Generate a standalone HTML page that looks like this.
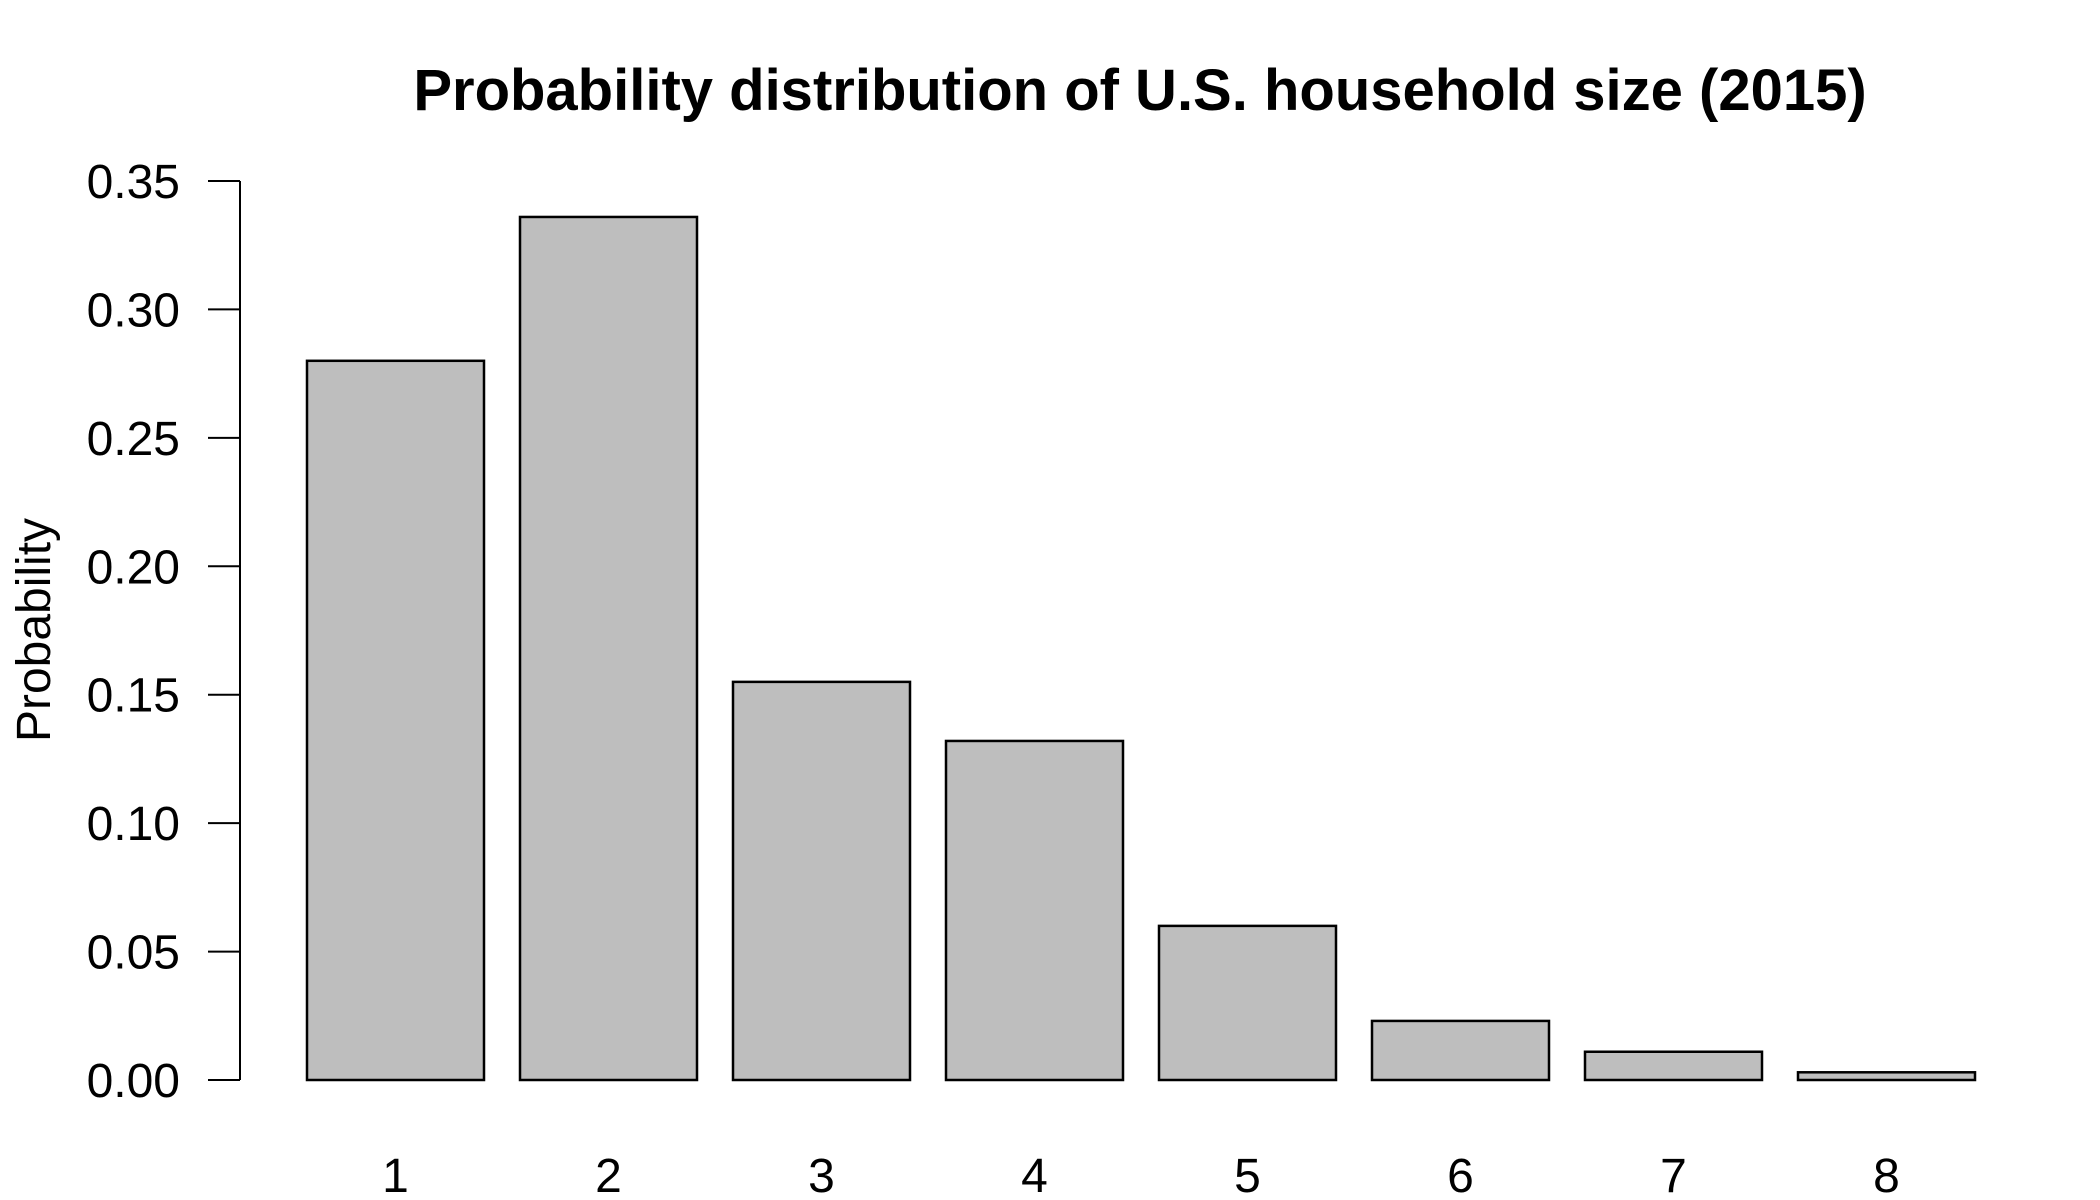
<!DOCTYPE html>
<html><head><meta charset="utf-8"><style>
html,body{margin:0;padding:0;background:#fff;}
svg{display:block;font-family:"Liberation Sans",Arial,sans-serif;}
</style></head><body>
<svg id="chart" width="2100" height="1200" viewBox="0 0 2100 1200">
<rect width="2100" height="1200" fill="#fff"/>
<text x="1140" y="110" text-anchor="middle" font-size="58" font-weight="bold">Probability distribution of U.S. household size (2015)</text>
<text transform="translate(50,630) rotate(-90)" text-anchor="middle" font-size="48">Probability</text>
<g id="yaxis"></g>
<g id="bars"></g>
<g id="xlabels"></g>
</svg>
<script>
const categories = ["1","2","3","4","5","6","7","8"];
const values = [0.28, 0.336, 0.155, 0.132, 0.060, 0.023, 0.011, 0.003];
const yTicks = [0, 0.05, 0.10, 0.15, 0.20, 0.25, 0.30, 0.35];
const yTickLabels = ["0.00","0.05","0.10","0.15","0.20","0.25","0.30","0.35"];

const NS = "http://www.w3.org/2000/svg";
const y0 = 1080, yTop = 181, yMax = 0.35;
function yScale(v){ return y0 - (v / yMax) * (y0 - yTop); }
const barStart = 307, barStep = 213, barW = 177;
function xScale(i){ return barStart + i * barStep; }
function mk(tag, attrs){ const e = document.createElementNS(NS, tag); for (const k in attrs) e.setAttribute(k, attrs[k]); return e; }

const ya = document.getElementById('yaxis');
const axisLine = mk('line', {x1:240, x2:240, y1:yScale(yTicks[0]), y2:yScale(yTicks[yTicks.length-1]), stroke:'#000', 'stroke-width':2});


ya.appendChild(axisLine);
yTicks.forEach((t, i) => {
  const y = yScale(t);
  const tk = mk('line', {x1:208, x2:240, y1:y, y2:y, stroke:'#000', 'stroke-width':2});
  
  
  ya.appendChild(tk);
  const lb = mk('text', {x:180, y:y+17, 'text-anchor':'end', 'font-size':48});
  lb.textContent = yTickLabels[i];
  
  
  ya.appendChild(lb);
});

const bg = document.getElementById('bars');
const xl = document.getElementById('xlabels');
values.forEach((v, i) => {
  const x = xScale(i);
  const r = mk('rect', {x:x, y:yScale(v), width:barW, height:y0 - yScale(v), fill:'#bebebe', stroke:'#000', 'stroke-width':2.5});
  
  
  bg.appendChild(r);
  const t = mk('text', {x:x + barW/2, y:1192, 'text-anchor':'middle', 'font-size':48});
  t.textContent = categories[i];
  
  
  xl.appendChild(t);
});
</script>
</body></html>
